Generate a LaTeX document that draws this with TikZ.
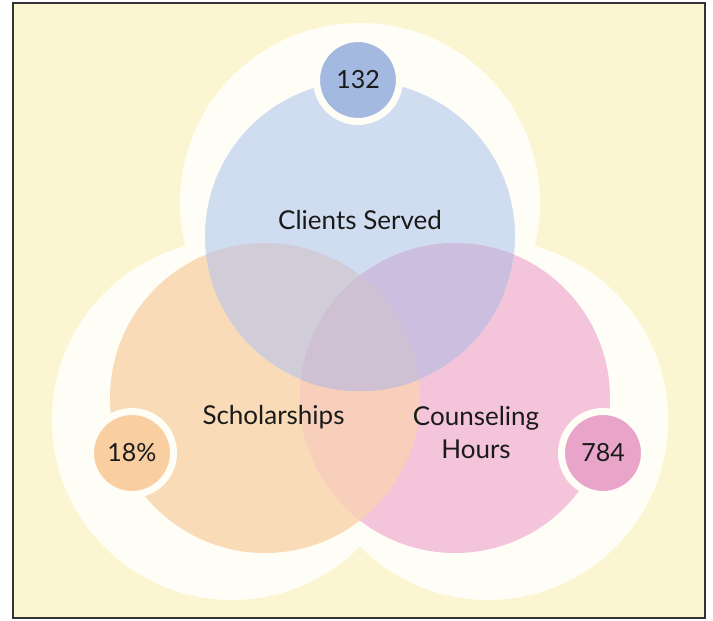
\documentclass[tikz,border=0pt]{standalone}
\usepackage{fontspec}
\setmainfont{Lato}
\definecolor{bgy}{HTML}{FBF5D1}
\definecolor{halo}{HTML}{FEFDF6}
\definecolor{cblue}{HTML}{D0DCEF}
\definecolor{corange}{HTML}{FADBB8}
\definecolor{cpink}{HTML}{F4C4DB}
\definecolor{cob}{HTML}{D0CCD8}
\definecolor{cpb}{HTML}{CCBEDE}
\definecolor{cop}{HTML}{F8CFBA}
\definecolor{cobp}{HTML}{CFC0D3}
\definecolor{dblue}{HTML}{A4B9E0}
\definecolor{dorange}{HTML}{F9CFA2}
\definecolor{dpink}{HTML}{E9A4C9}
\definecolor{framec}{HTML}{333333}
\definecolor{ink}{HTML}{1A1A1A}
\begin{document}
\begin{tikzpicture}[x=1pt,y=-1pt,
  lbl/.style={font=\fontsize{26}{33}\selectfont, text=ink, inner sep=0pt},
  badge/.style={circle, minimum size=83pt, inner sep=0pt, draw=halo, line width=7pt,
    font=\fontsize{25}{28}\selectfont, text=ink}]
\useasboundingbox (0,0) rectangle (713,621);
\fill[white] (0,0) rectangle (713,621);
\fill[bgy] (13,3) rectangle (705,618);
% halos
\fill[halo] (360,203) circle (180pt);
\fill[halo] (232,420) circle (180pt);
\fill[halo] (488,420) circle (180pt);
% main circles
\coordinate (cB) at (360,236);
\coordinate (cO) at (265,398);
\coordinate (cP) at (455,398);
\fill[corange] (cO) circle (155pt);
\fill[cpink] (cP) circle (155pt);
\fill[cblue] (cB) circle (155pt);
\begin{scope}
  \clip (cO) circle (155pt);
  \fill[cop] (cP) circle (155pt);
  \fill[cob] (cB) circle (155pt);
  \clip (cP) circle (155pt);
  \fill[cobp] (cB) circle (155pt);
\end{scope}
\begin{scope}
  \clip (cP) circle (155pt);
  \clip (cB) circle (155pt);
  \fill[cpb] (cB) circle (155pt);
  \clip (cO) circle (155pt);
  \fill[cobp] (cB) circle (155pt);
\end{scope}
% badges
\node[badge, fill=dblue] (n132) at (358,80) {132};
\node[badge, fill=dorange] (n18) at (132,453) {18\%};
\node[badge, fill=dpink] (n784) at (603,453) {784};
% labels
\node[lbl, anchor=base] (lcs) at (360,229) {Clients Served};
\node[lbl, anchor=base] (lsch) at (273.5,424) {Scholarships};
\node[lbl, anchor=base, align=center] (lch) at (476,458) {Counseling\\Hours};
% frame
\draw[framec, line width=2pt] (13,3) rectangle (705,618);
\end{tikzpicture}
\end{document}
